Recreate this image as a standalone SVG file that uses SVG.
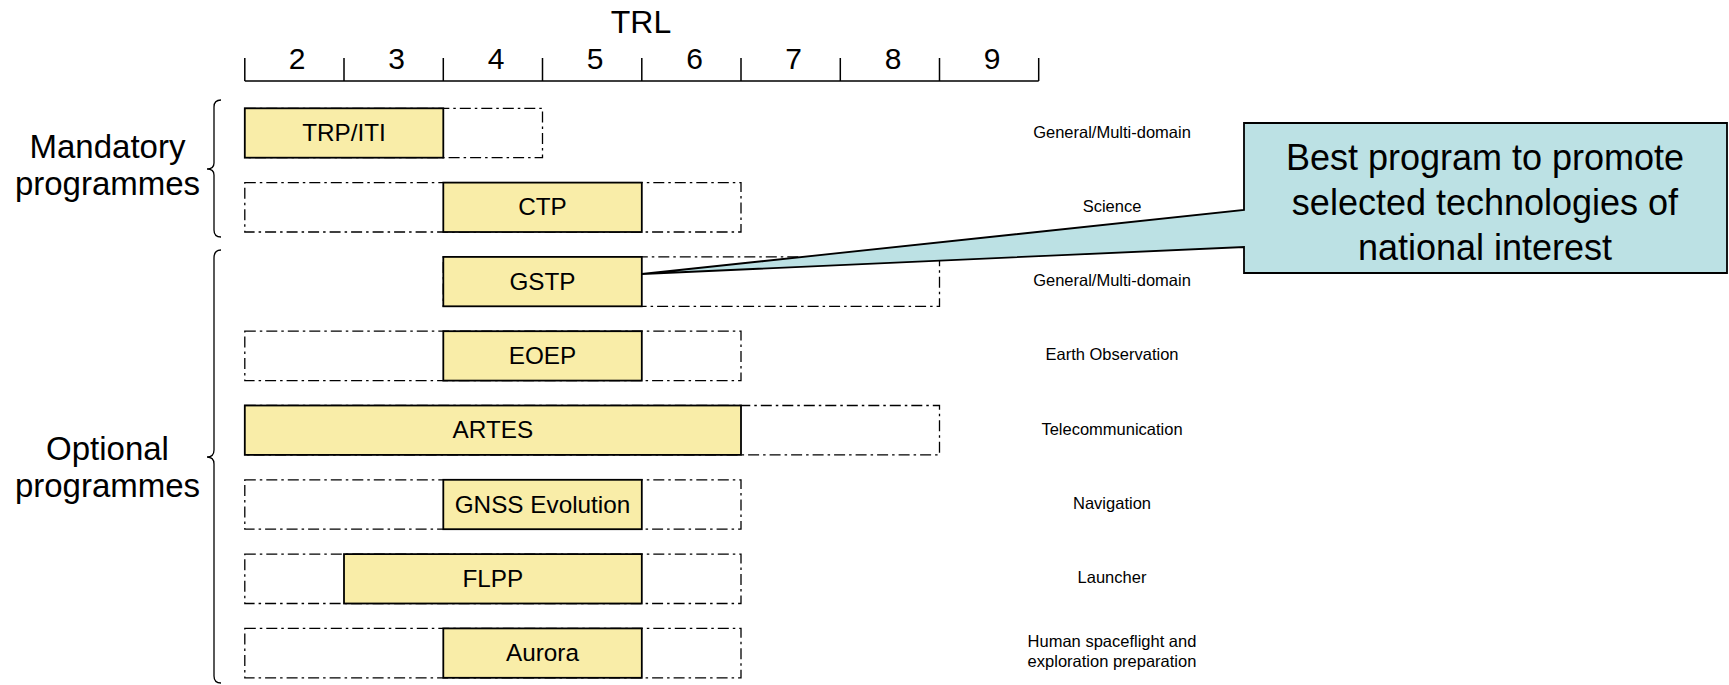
<svg xmlns="http://www.w3.org/2000/svg" width="1729" height="685" viewBox="0 0 1729 685">
<style>
text{font-family:"Liberation Sans",Arial,sans-serif;fill:#000}
.ax{stroke:#000;stroke-width:1.5;fill:none}
.dig{font-size:30px;text-anchor:middle}
.dash{fill:none;stroke:#000;stroke-width:1.3;stroke-dasharray:11 4 2.5 4}
.bar{fill:#F9EDA8;stroke:#000;stroke-width:1.8}
.lbl{font-size:24.3px;text-anchor:middle}
.dom{font-size:16.5px;text-anchor:middle}
.side{font-size:33px;text-anchor:middle}
.brace{fill:none;stroke:#000;stroke-width:1.3}
</style>
<rect width="1729" height="685" fill="#fff"/>
<g id="axis">
<text x="641" y="33" font-size="32" text-anchor="middle">TRL</text>
<path class="ax" d="M244.8 81H1038.7M244.8 58V81M344 58V81M443.3 58V81M542.5 58V81M641.8 58V81M741 58V81M840.3 58V81M939.5 58V81M1038.7 58V81"/>
<text class="dig" x="297" y="68.5">2</text>
<text class="dig" x="396.5" y="68.5">3</text>
<text class="dig" x="496" y="68.5">4</text>
<text class="dig" x="595" y="68.5">5</text>
<text class="dig" x="694.5" y="68.5">6</text>
<text class="dig" x="793.5" y="68.5">7</text>
<text class="dig" x="893" y="68.5">8</text>
<text class="dig" x="992" y="68.5">9</text>
</g>
<g id="side-labels">
<text class="side" x="107.5" y="158">Mandatory</text>
<text class="side" x="107.5" y="195">programmes</text>
<text class="side" x="107.5" y="460">Optional</text>
<text class="side" x="107.5" y="497">programmes</text>
<path class="brace" d="M221 100Q214 100 214 107V163Q214 169 207 169Q214 169 214 175V230Q214 237 221 237"/>
<path class="brace" d="M221 250Q214 250 214 258V450Q214 457 207 457Q214 457 214 464V676Q214 683 221 683"/>
</g>
<g id="row-trp">
<rect class="dash" x="244.8" y="108.3" width="297.7" height="49.4"/>
<rect class="bar" x="244.8" y="108.3" width="198.5" height="49.4"/>
<text class="lbl" x="344" y="141">TRP/ITI</text>
<text class="dom" x="1112" y="137.5">General/Multi-domain</text>
</g>
<g id="row-ctp">
<rect class="dash" x="244.8" y="182.6" width="496.2" height="49.4"/>
<rect class="bar" x="443.3" y="182.6" width="198.5" height="49.4"/>
<text class="lbl" x="542.5" y="215.3">CTP</text>
<text class="dom" x="1112" y="211.8">Science</text>
</g>
<g id="row-gstp">
<rect class="dash" x="443.3" y="256.9" width="496.2" height="49.4"/>
<rect class="bar" x="443.3" y="256.9" width="198.5" height="49.4"/>
<text class="lbl" x="542.5" y="289.6">GSTP</text>
<text class="dom" x="1112" y="286.1">General/Multi-domain</text>
</g>
<g id="row-eoep">
<rect class="dash" x="244.8" y="331.2" width="496.2" height="49.4"/>
<rect class="bar" x="443.3" y="331.2" width="198.5" height="49.4"/>
<text class="lbl" x="542.5" y="363.9">EOEP</text>
<text class="dom" x="1112" y="360.4">Earth Observation</text>
</g>
<g id="row-artes">
<rect class="dash" x="244.8" y="405.5" width="694.7" height="49.4"/>
<rect class="bar" x="244.8" y="405.5" width="496.2" height="49.4"/>
<text class="lbl" x="492.9" y="438.2">ARTES</text>
<text class="dom" x="1112" y="434.7">Telecommunication</text>
</g>
<g id="row-gnss">
<rect class="dash" x="244.8" y="479.8" width="496.2" height="49.4"/>
<rect class="bar" x="443.3" y="479.8" width="198.5" height="49.4"/>
<text class="lbl" x="542.5" y="512.5">GNSS Evolution</text>
<text class="dom" x="1112" y="509">Navigation</text>
</g>
<g id="row-flpp">
<rect class="dash" x="244.8" y="554.1" width="496.2" height="49.4"/>
<rect class="bar" x="344" y="554.1" width="297.8" height="49.4"/>
<text class="lbl" x="492.9" y="586.8">FLPP</text>
<text class="dom" x="1112" y="583.3">Launcher</text>
</g>
<g id="row-aurora">
<rect class="dash" x="244.8" y="628.4" width="496.2" height="49.4"/>
<rect class="bar" x="443.3" y="628.4" width="198.5" height="49.4"/>
<text class="lbl" x="542.5" y="661.1">Aurora</text>
<text class="dom" x="1112" y="647">Human spaceflight and</text>
<text class="dom" x="1112" y="667">exploration preparation</text>
</g>
<g id="callout">
<path d="M1244 123H1727V273H1244V247L641.8 274L1244 210Z" fill="#BCE1E4" stroke="#000" stroke-width="1.8" stroke-linejoin="miter"/>
<text x="1485" y="170" font-size="36" text-anchor="middle">Best program to promote</text>
<text x="1485" y="215" font-size="36" text-anchor="middle">selected technologies of</text>
<text x="1485" y="260" font-size="36" text-anchor="middle">national interest</text>
</g>
</svg>
